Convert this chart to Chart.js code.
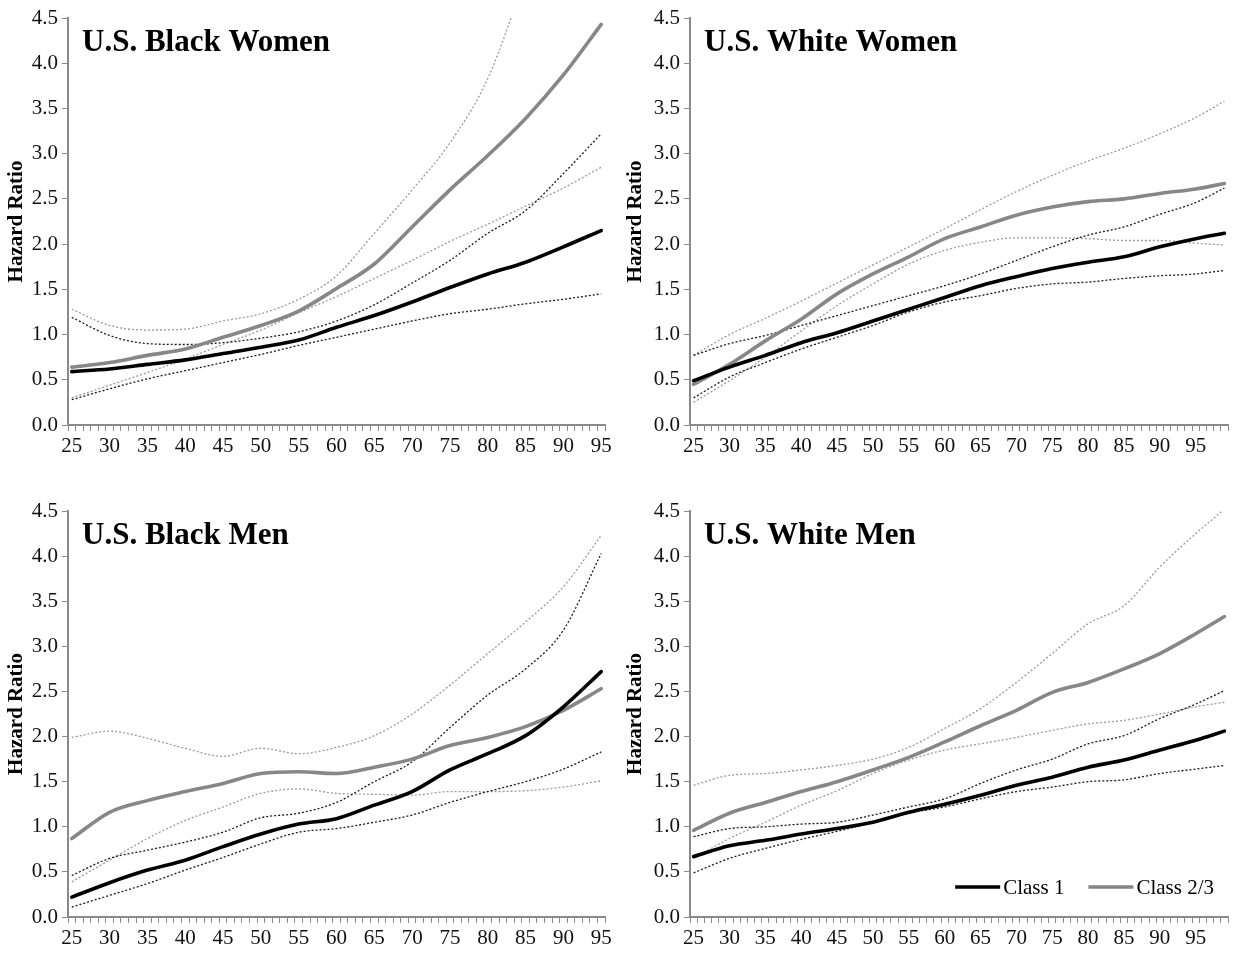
<!DOCTYPE html>
<html>
<head>
<meta charset="utf-8">
<title>Hazard Ratio by Age</title>
<script src="https://cdn.jsdelivr.net/npm/chart.js@4.4.1/dist/chart.umd.min.js"></script>
<style>
  html, body { margin: 0; padding: 0; background: #ffffff; }
  #wrap { position: relative; width: 1238px; height: 960px; overflow: hidden; }
  .panel { position: absolute; width: 619px; height: 480px; }
</style>
</head>
<body>
<div id="wrap">
  <div class="panel" style="left:0px;top:0px"><canvas id="bw" width="619" height="480"></canvas></div>
  <div class="panel" style="left:619px;top:0px"><canvas id="ww" width="619" height="480"></canvas></div>
  <div class="panel" style="left:0px;top:480px"><canvas id="bm" width="619" height="480"></canvas></div>
  <div class="panel" style="left:619px;top:480px"><canvas id="wm" width="619" height="480"></canvas></div>
</div>
<script>
// Age range of each x axis (one category per year)
const firstAge = 25;
const lastAgeLeft = 95;
const lastAgeRight = 99;

// Ages at which the curves are given
const agesLeft  = [25, 30, 35, 40, 45, 50, 55, 60, 65, 70, 75, 80, 85, 90, 95];
const agesRight = [25, 30, 35, 40, 45, 50, 55, 60, 65, 70, 75, 80, 85, 90, 95, 99];

// Y axis ticks
const yTicks = [0, 0.5, 1, 1.5, 2, 2.5, 3, 3.5, 4, 4.5];

// U.S. Black Women
const bwClass1     = [0.59, 0.62, 0.67, 0.72, 0.79, 0.86, 0.94, 1.08, 1.21, 1.36, 1.52, 1.67, 1.80, 1.97, 2.15];
const bwClass1Lo   = [0.28, 0.40, 0.51, 0.60, 0.69, 0.78, 0.88, 0.97, 1.06, 1.15, 1.23, 1.28, 1.34, 1.39, 1.45];
const bwClass1Hi   = [1.19, 0.99, 0.90, 0.89, 0.91, 0.96, 1.03, 1.15, 1.33, 1.57, 1.82, 2.12, 2.37, 2.78, 3.22];
const bwClass23    = [0.64, 0.69, 0.77, 0.84, 0.97, 1.10, 1.26, 1.51, 1.78, 2.19, 2.60, 2.98, 3.39, 3.87, 4.43];
const bwClass23Lo  = [0.30, 0.44, 0.58, 0.73, 0.89, 1.05, 1.24, 1.42, 1.62, 1.82, 2.03, 2.22, 2.42, 2.62, 2.85];
const bwClass23Hi  = [1.28, 1.10, 1.05, 1.06, 1.15, 1.23, 1.39, 1.65, 2.12, 2.60, 3.12, 3.83, 4.95, null, null];

// U.S. White Women
const wwClass1     = [0.49, 0.64, 0.77, 0.91, 1.02, 1.15, 1.28, 1.41, 1.54, 1.64, 1.73, 1.80, 1.86, 1.97, 2.06, 2.12];
const wwClass1Lo   = [0.30, 0.53, 0.69, 0.84, 0.97, 1.10, 1.25, 1.36, 1.43, 1.51, 1.56, 1.58, 1.62, 1.65, 1.67, 1.71];
const wwClass1Hi   = [0.77, 0.90, 0.99, 1.10, 1.21, 1.32, 1.43, 1.54, 1.67, 1.82, 1.97, 2.10, 2.19, 2.33, 2.46, 2.62];
const wwClass23    = [0.45, 0.67, 0.93, 1.17, 1.45, 1.67, 1.86, 2.06, 2.19, 2.32, 2.41, 2.47, 2.50, 2.56, 2.61, 2.67];
const wwClass23Lo  = [0.25, 0.49, 0.75, 1.04, 1.32, 1.56, 1.78, 1.93, 2.02, 2.07, 2.07, 2.06, 2.04, 2.04, 2.01, 1.99];
const wwClass23Hi  = [0.77, 1.00, 1.18, 1.37, 1.57, 1.77, 1.97, 2.17, 2.38, 2.58, 2.76, 2.92, 3.06, 3.22, 3.40, 3.58];

// U.S. Black Men
const bmClass1     = [0.22, 0.38, 0.52, 0.63, 0.78, 0.92, 1.03, 1.09, 1.24, 1.39, 1.63, 1.81, 2.01, 2.33, 2.72];
const bmClass1Lo   = [0.11, 0.24, 0.37, 0.52, 0.66, 0.81, 0.94, 0.98, 1.05, 1.13, 1.27, 1.39, 1.50, 1.64, 1.83];
const bmClass1Hi   = [0.46, 0.65, 0.74, 0.83, 0.94, 1.10, 1.15, 1.27, 1.50, 1.72, 2.10, 2.46, 2.75, 3.18, 4.03];
const bmClass23    = [0.87, 1.16, 1.29, 1.39, 1.48, 1.59, 1.61, 1.59, 1.66, 1.75, 1.90, 1.99, 2.11, 2.29, 2.53];
const bmClass23Lo  = [0.39, 0.63, 0.87, 1.07, 1.22, 1.37, 1.42, 1.37, 1.36, 1.35, 1.39, 1.39, 1.40, 1.44, 1.51];
const bmClass23Hi  = [1.99, 2.06, 1.98, 1.87, 1.78, 1.87, 1.81, 1.88, 2.01, 2.25, 2.57, 2.92, 3.27, 3.66, 4.23];

// U.S. White Men
const wmClass1     = [0.67, 0.79, 0.85, 0.92, 0.98, 1.05, 1.16, 1.25, 1.35, 1.46, 1.55, 1.66, 1.74, 1.85, 1.96, 2.06];
const wmClass1Lo   = [0.49, 0.65, 0.76, 0.86, 0.95, 1.05, 1.15, 1.22, 1.31, 1.39, 1.44, 1.50, 1.52, 1.59, 1.64, 1.68];
const wmClass1Hi   = [0.89, 0.98, 1.00, 1.03, 1.05, 1.13, 1.22, 1.31, 1.48, 1.63, 1.75, 1.92, 2.01, 2.20, 2.36, 2.51];
const wmClass23    = [0.96, 1.15, 1.27, 1.39, 1.50, 1.63, 1.77, 1.94, 2.12, 2.29, 2.49, 2.60, 2.75, 2.92, 3.14, 3.33];
const wmClass23Lo  = [0.65, 0.87, 1.05, 1.24, 1.40, 1.59, 1.74, 1.85, 1.92, 1.99, 2.07, 2.14, 2.18, 2.25, 2.33, 2.38];
const wmClass23Hi  = [1.46, 1.57, 1.59, 1.63, 1.68, 1.75, 1.88, 2.09, 2.31, 2.60, 2.92, 3.25, 3.45, 3.88, 4.25, 4.52];

const legendLabels = ['Class 1', 'Class 2/3'];

// Styling
const SERIF = '"Liberation Serif", "Times New Roman", serif';
const AXIS_GRAY = '#8a8a8a';
const CLASS1_COLOR = '#000000';
const CLASS23_COLOR = '#878787';
const CLASS1_CI_COLOR = '#1a1a1a';
const CLASS23_CI_COLOR = '#9a9a9a';
const TICK_SIZE = 21;

function yearLabels(last) {
  const out = [];
  for (let a = firstAge; a <= last; a++) out.push(String(a));
  return out;
}

function toPoints(ages, values) {
  return ages.map((a, i) => ({ x: String(a), y: values[i] }));
}

// Draws the panel heading inside the plot and, where asked, the key.
const panelTextPlugin = {
  id: 'panelText',
  afterDraw(chart, args, opts) {
    const ctx = chart.ctx;
    const area = chart.chartArea;
    ctx.save();
    ctx.fillStyle = '#000';
    ctx.font = 'bold 31px ' + SERIF;
    ctx.textBaseline = 'alphabetic';
    ctx.textAlign = 'left';
    ctx.fillText(opts.title, area.left + 14, area.top + 33);

    if (opts.showKey) {
      const y = area.bottom - 30;
      ctx.font = TICK_SIZE + 'px ' + SERIF;
      ctx.textBaseline = 'middle';
      const lineLen = 45;
      const w2 = ctx.measureText(legendLabels[1]).width;
      const w1 = ctx.measureText(legendLabels[0]).width;
      const text2X = area.right - 14 - w2;
      const line2End = text2X - 3;
      const line2Start = line2End - lineLen;
      const text1X = line2Start - 24 - w1;
      const line1End = text1X - 3;
      const line1Start = line1End - lineLen;
      ctx.lineWidth = 3.6;
      ctx.strokeStyle = CLASS1_COLOR;
      ctx.beginPath(); ctx.moveTo(line1Start, y); ctx.lineTo(line1End, y); ctx.stroke();
      ctx.strokeStyle = CLASS23_COLOR;
      ctx.beginPath(); ctx.moveTo(line2Start, y); ctx.lineTo(line2End, y); ctx.stroke();
      ctx.fillText(legendLabels[0], text1X, y + 1);
      ctx.fillText(legendLabels[1], text2X, y + 1);
    }
    ctx.restore();
  }
};

function makePanel(id, cfg) {
  const labels = yearLabels(cfg.lastAge);
  const thin = (label, values, color, order) => ({
    label, data: toPoints(cfg.ages, values), borderColor: color, borderWidth: 1.3,
    borderDash: [2, 2], pointRadius: 0, cubicInterpolationMode: 'monotone', fill: false, order
  });
  const thick = (label, values, color, order) => ({
    label, data: toPoints(cfg.ages, values), borderColor: color, borderWidth: 3.6,
    pointRadius: 0, cubicInterpolationMode: 'monotone', fill: false, order,
    borderCapStyle: 'round', borderJoinStyle: 'round'
  });

  return new Chart(document.getElementById(id), {
    type: 'line',
    data: {
      labels,
      datasets: [
        thick(legendLabels[0], cfg.c1, CLASS1_COLOR, 0),
        thick(legendLabels[1], cfg.c23, CLASS23_COLOR, 1),
        thin('Class 1 lower', cfg.c1Lo, CLASS1_CI_COLOR, 2),
        thin('Class 1 upper', cfg.c1Hi, CLASS1_CI_COLOR, 3),
        thin('Class 2/3 lower', cfg.c23Lo, CLASS23_CI_COLOR, 4),
        thin('Class 2/3 upper', cfg.c23Hi, CLASS23_CI_COLOR, 5)
      ]
    },
    options: {
      responsive: false,
      animation: false,
      devicePixelRatio: 1,
      events: [],
      layout: { padding: { top: cfg.padTop, right: cfg.padRight, left: 0, bottom: 0 } },
      plugins: {
        legend: { display: false },
        tooltip: { enabled: false },
        panelText: { title: cfg.title, showKey: !!cfg.showKey }
      },
      scales: {
        x: {
          type: 'category',
          offset: true,
          afterFit: (s) => { s.height = cfg.xAxisHeight; },
          grid: { display: true, drawOnChartArea: false, offset: true, tickLength: 6, color: AXIS_GRAY, lineWidth: 1 },
          border: { display: true, color: AXIS_GRAY, width: 2 },
          ticks: {
            autoSkip: false, maxRotation: 0, minRotation: 0, padding: 3,
            color: '#111', font: { family: SERIF, size: TICK_SIZE },
            callback: function (value) {
              const lab = this.getLabelForValue(value);
              return (Number(lab) % 5 === 0) ? lab : '';
            }
          }
        },
        y: {
          min: 0, max: 4.5,
          afterFit: (s) => { s.width = cfg.yAxisWidth; },
          afterBuildTicks: (s) => { s.ticks = yTicks.map(v => ({ value: v })); },
          grid: { display: true, drawOnChartArea: false, tickLength: 6, color: AXIS_GRAY, lineWidth: 1 },
          border: { display: true, color: AXIS_GRAY, width: 2 },
          ticks: {
            padding: 4, color: '#111', font: { family: SERIF, size: TICK_SIZE },
            callback: (v) => Number(v).toFixed(1)
          },
          title: {
            display: true, text: 'Hazard Ratio', color: '#000', padding: { top: 4, bottom: 0 },
            font: { family: SERIF, size: 21, weight: 'bold' }
          }
        }
      }
    },
    plugins: [panelTextPlugin]
  });
}

makePanel('bw', {
  title: 'U.S. Black Women', lastAge: lastAgeLeft, ages: agesLeft,
  c1: bwClass1, c1Lo: bwClass1Lo, c1Hi: bwClass1Hi, c23: bwClass23, c23Lo: bwClass23Lo, c23Hi: bwClass23Hi,
  yAxisWidth: 68, padTop: 18, padRight: 14, xAxisHeight: 55
});
makePanel('ww', {
  title: 'U.S. White Women', lastAge: lastAgeRight, ages: agesRight,
  c1: wwClass1, c1Lo: wwClass1Lo, c1Hi: wwClass1Hi, c23: wwClass23, c23Lo: wwClass23Lo, c23Hi: wwClass23Hi,
  yAxisWidth: 71, padTop: 18, padRight: 10, xAxisHeight: 55
});
makePanel('bm', {
  title: 'U.S. Black Men', lastAge: lastAgeLeft, ages: agesLeft,
  c1: bmClass1, c1Lo: bmClass1Lo, c1Hi: bmClass1Hi, c23: bmClass23, c23Lo: bmClass23Lo, c23Hi: bmClass23Hi,
  yAxisWidth: 68, padTop: 31, padRight: 14, xAxisHeight: 43
});
makePanel('wm', {
  title: 'U.S. White Men', lastAge: lastAgeRight, ages: agesRight,
  c1: wmClass1, c1Lo: wmClass1Lo, c1Hi: wmClass1Hi, c23: wmClass23, c23Lo: wmClass23Lo, c23Hi: wmClass23Hi,
  yAxisWidth: 71, padTop: 31, padRight: 10, xAxisHeight: 43, showKey: true
});
</script>
</body>
</html>
